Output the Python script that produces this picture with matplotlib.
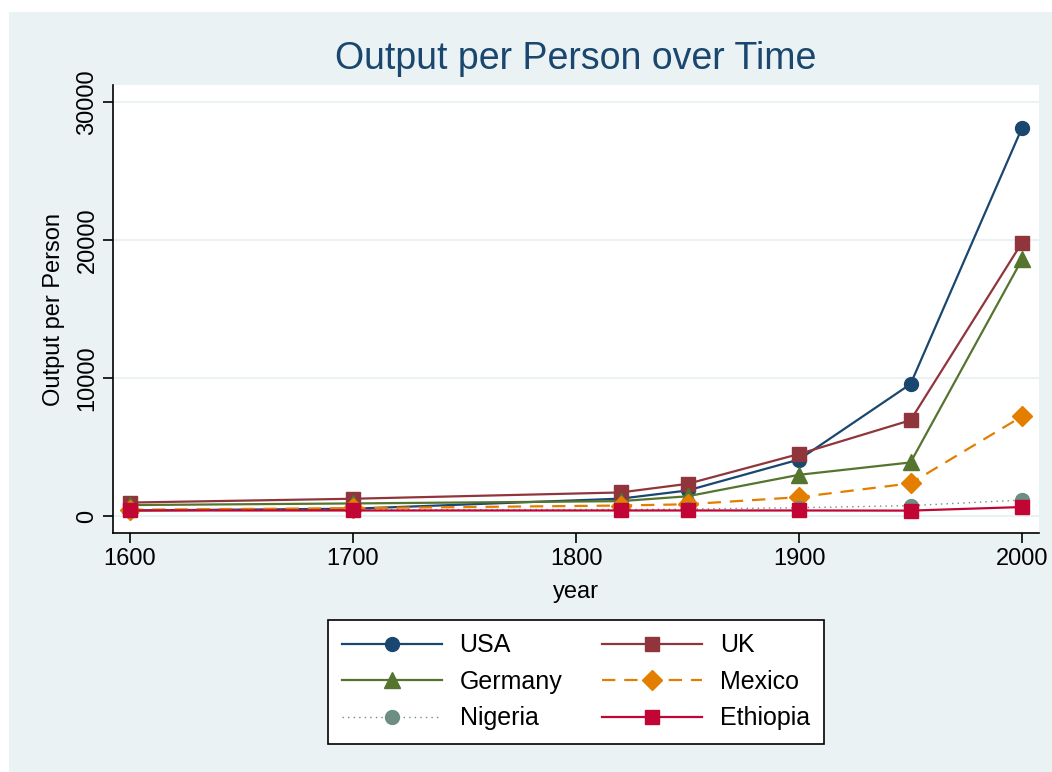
import matplotlib
matplotlib.use("Agg")
import matplotlib.pyplot as plt
from matplotlib.patches import Rectangle

plt.rcParams['font.family'] = ['Liberation Sans', 'DejaVu Sans']

# Maddison-style output per person
years = [1600, 1700, 1820, 1850, 1900, 1950, 2000]
usa = [400, 527, 1257, 1849, 4091, 9561, 28129]
uk = [974, 1250, 1706, 2330, 4492, 6939, 19817]
germany = [791, 910, 1077, 1428, 2985, 3881, 18596]
mexico = [454, 568, 759, 850, 1366, 2365, 7218]
nigeria = [450, 450, 470, 500, 600, 753, 1156]
ethiopia = [400, 400, 400, 400, 400, 390, 650]

series = [
    ("USA", usa, "#1a476f", "o", "-"),
    ("UK", uk, "#90353b", "s", "-"),
    ("Germany", germany, "#55752f", "^", "-"),
    ("Mexico", mexico, "#e37e00", "D", (0, (6, 4))),
    ("Nigeria", nigeria, "#6e8e84", "o", (0, (1, 3))),
    ("Ethiopia", ethiopia, "#c10534", "s", "-"),
]

W, H = 1052, 772
fig = plt.figure(figsize=(W / 100, H / 100), dpi=100)
fig.patch.set_facecolor("white")
fig.patches.append(Rectangle((9 / W, 0), 1 - 9 / W, 1 - 12 / H,
                             transform=fig.transFigure, facecolor="#eaf2f3",
                             edgecolor="none", zorder=-10))

ax = fig.add_axes([113 / W, 1 - 533 / H, (1039 - 113) / W, (533 - 85) / H])
ax.set_facecolor("white")

sizes = {"o": 10, "s": 10, "^": 11, "D": 10}
for name, vals, col, mk, ls in series:
    lw = 1.6 if ls != (0, (1, 3)) else 1.0
    ax.plot(years, vals, color=col, marker=mk, linestyle=ls, lw=lw,
            markersize=sizes[mk], label=name, clip_on=False)

ax.set_xlim(1592.4, 2007.6)
ax.set_ylim(-1232, 31232)
ax.set_xticks([1600, 1700, 1800, 1900, 2000])
ax.set_yticks([0, 10000, 20000, 30000])
ax.grid(axis="y", color="#eaf2f3", lw=1.5)
ax.set_axisbelow(True)
for s in ["top", "right"]:
    ax.spines[s].set_visible(False)
for s in ["left", "bottom"]:
    ax.spines[s].set_color("black")
    ax.spines[s].set_linewidth(1.2)
ax.tick_params(axis="both", labelsize=17, length=7, width=1.2, color="black")
for lbl in ax.get_yticklabels():
    lbl.set_rotation(90)
    lbl.set_va("center")
ax.set_xlabel("year", fontsize=17, labelpad=8)
ax.set_ylabel("Output per Person", fontsize=17, labelpad=8)

fig.text(0.5 * (113 + 1039) / W, 1 - 59 / H, "Output per Person over Time",
         ha="center", va="center", fontsize=27, color="#1a476f")

handles, labels = ax.get_legend_handles_labels()
order = [0, 2, 4, 1, 3, 5]  # row-major like the reference
leg = fig.legend([handles[i] for i in order], [labels[i] for i in order],
                 ncol=2, loc="center",
                 bbox_to_anchor=(576 / W, 1 - 682 / H), fontsize=18,
                 frameon=True, fancybox=False, edgecolor="black",
                 facecolor="white", framealpha=1,
                 handlelength=4.0, columnspacing=1.6, labelspacing=0.5,
                 borderpad=0.55, handletextpad=0.7)
leg.get_frame().set_linewidth(1.2)

fig.savefig("out.png", dpi=100, facecolor=fig.get_facecolor())
